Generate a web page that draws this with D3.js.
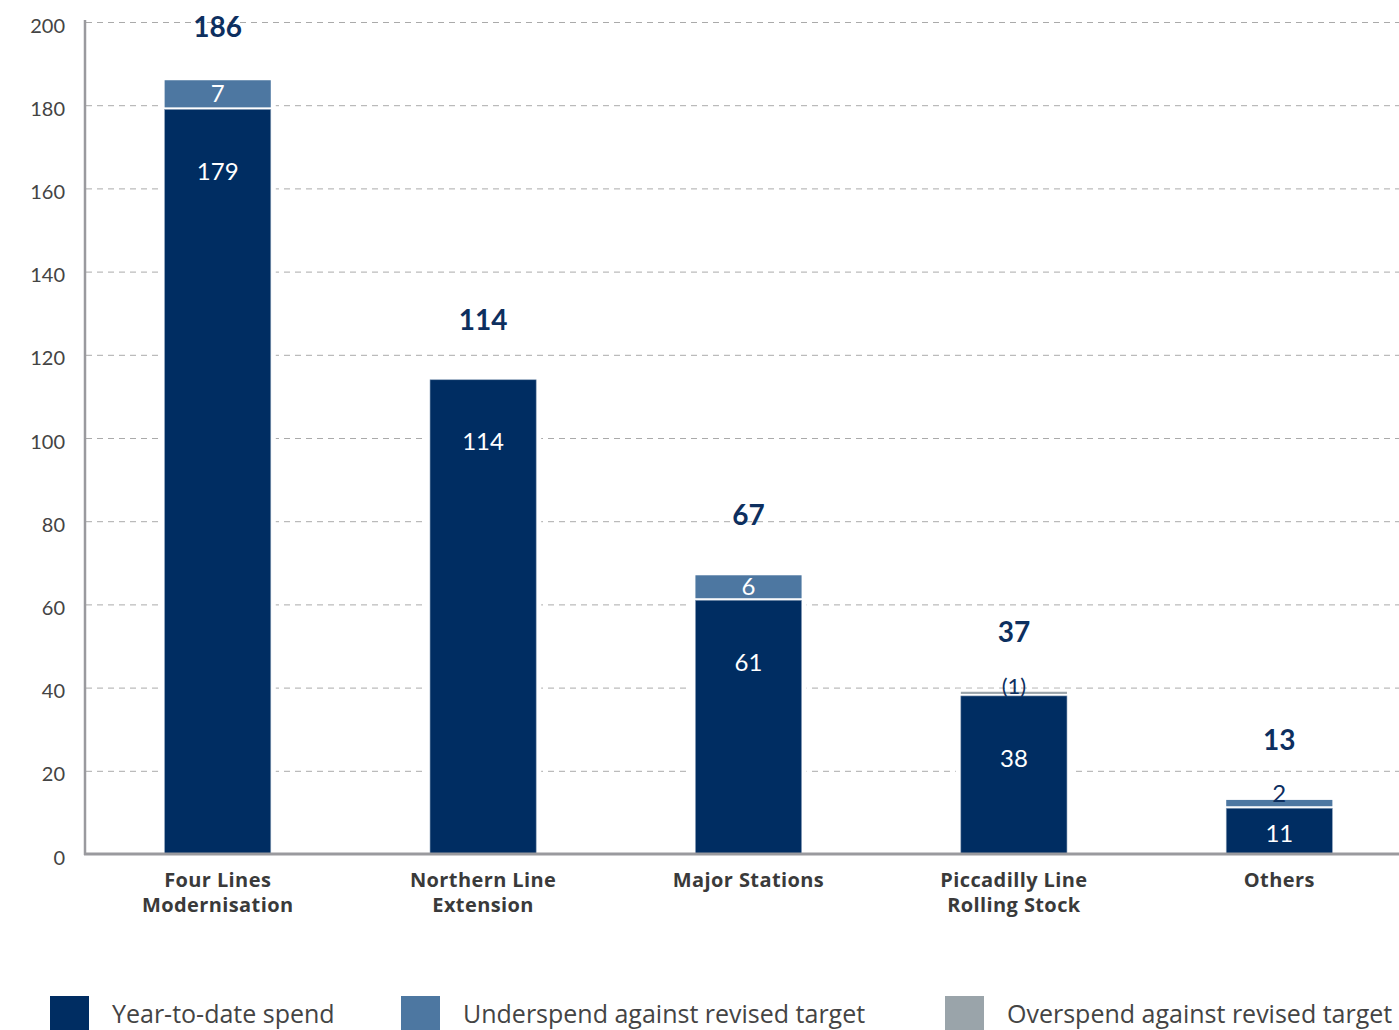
<!DOCTYPE html>
<html><head><meta charset="utf-8">
<script src="https://cdn.jsdelivr.net/npm/d3@7"></script>
<style>
html,body{margin:0;padding:0;background:#fff;}
svg{display:block;font-family:Lato,"Open Sans",sans-serif;}
</style></head>
<body>
<svg id="chart" width="1399" height="1030"></svg>
<script>
const categories = ["Four Lines|Modernisation", "Northern Line|Extension", "Major Stations", "Piccadilly Line|Rolling Stock", "Others"];
const ytdSpend = [179, 114, 61, 38, 11];
const underspend = [7, 0, 6, 0, 2];
const overspend = [0, 0, 0, 1, 0];
const totals = [186, 114, 67, 37, 13];
const yTicks = [0, 20, 40, 60, 80, 100, 120, 140, 160, 180, 200];
const legendLabels = ["Year-to-date spend", "Underspend against revised target", "Overspend against revised target"];

const colors = {ytd: "#002d62", under: "#4d77a1", over: "#9aa4aa"};
const navy = "#0d2f5f";

const svg = d3.select("#chart");
const x = d3.scaleBand().domain(categories).range([85, 1412]).paddingInner(0.6).paddingOuter(0.3);
const y = d3.scaleLinear().domain([0, 200]).range([854, 22]);
const bw = x.bandwidth();

// gridlines
svg.append("g").selectAll("line").data(yTicks.filter(d => d > 0)).join("line")
  .attr("x1", 86).attr("x2", 1399)
  .attr("y1", d => y(d) + 0.5).attr("y2", d => y(d) + 0.5)
  .attr("stroke", "#aaaaaa").attr("stroke-width", 1).attr("stroke-dasharray", "6,5");

// y axis via d3 axis
const yAxis = d3.axisLeft(y).tickValues(yTicks).tickSize(0).tickPadding(20);
const gy = svg.append("g").attr("transform", "translate(85,0)").call(yAxis);
gy.select(".domain").remove();
gy.selectAll("text").attr("font-size", 20).attr("fill", "#444").attr("font-family", "Lato, sans-serif").attr("dy", "0.5em");
svg.append("line").attr("x1", 85).attr("x2", 85).attr("y1", 20).attr("y2", 855)
  .attr("stroke", "#9a9a9e").attr("stroke-width", 2.5);

// bars
const data = categories.map((c, i) => ({c, ytd: ytdSpend[i], under: underspend[i], over: overspend[i], total: totals[i]}));
const g = svg.append("g");
data.forEach(d => {
  const x0 = x(d.c);
  const topVal = d.ytd + d.under + d.over;
  g.append("rect").attr("x", x0 - 5).attr("width", bw + 10)
    .attr("y", y(topVal) - 3).attr("height", y(0) - y(topVal) + 3).attr("fill", "#fff");
  g.append("rect").attr("x", x0).attr("width", bw)
    .attr("y", y(d.ytd)).attr("height", y(0) - y(d.ytd))
    .attr("fill", colors.ytd).attr("stroke", "#8fa3bb").attr("stroke-width", 0.6);
  if (d.under > 0) {
    g.append("rect").attr("x", x0).attr("width", bw)
      .attr("y", y(d.ytd + d.under)).attr("height", y(d.ytd) - y(d.ytd + d.under) - 2)
      .attr("fill", colors.under);
  }
  if (d.over > 0) {
    g.append("rect").attr("x", x0).attr("width", bw)
      .attr("y", y(d.ytd + d.over)).attr("height", y(d.ytd) - y(d.ytd + d.over) - 2)
      .attr("fill", colors.over);
  }
  const cx = x0 + bw / 2;
  const top = y(d.ytd), bot = y(0);
  const ly = Math.min(top + 62, (top + bot) / 2 + 2);
  g.append("text").attr("x", cx).attr("y", ly).attr("dy", "0.36em")
    .attr("text-anchor", "middle").attr("fill", "#fff").attr("font-size", 24).text(d.ytd);
  if (d.under > 0) {
    const segH = y(d.ytd) - y(d.ytd + d.under);
    if (segH > 20) {
      g.append("text").attr("x", cx).attr("y", (y(d.ytd) + y(d.ytd + d.under)) / 2 - 1).attr("dy", "0.36em")
        .attr("text-anchor", "middle").attr("fill", "#fff").attr("font-size", 24).text(d.under);
    } else {
      g.append("text").attr("x", cx).attr("y", y(d.ytd + d.under) + 2)
        .attr("text-anchor", "middle").attr("fill", navy).attr("font-size", 24).text(d.under);
    }
  }
  if (d.over > 0) {
    g.append("text").attr("x", cx).attr("y", y(d.ytd + d.over) + 2)
      .attr("text-anchor", "middle").attr("fill", navy).attr("font-size", 22).text("(" + d.over + ")");
  }
  const ty = Math.max(y(topVal) - 60, 27);
  g.append("text").attr("x", cx).attr("y", ty).attr("dy", "0.36em")
    .attr("text-anchor", "middle").attr("fill", navy).attr("font-size", 28).attr("font-weight", "bold").text(d.total);
});

// baseline
svg.append("line").attr("x1", 84).attr("x2", 1399).attr("y1", 854).attr("y2", 854)
  .attr("stroke", "#9a9a9e").attr("stroke-width", 3);

// x labels
const xl = svg.append("g");
categories.forEach(c => {
  const lines = c.split("|");
  const t = xl.append("text").attr("x", x(c) + bw / 2).attr("y", 887)
    .attr("text-anchor", "middle").attr("font-size", 20).attr("font-weight", "bold").attr("fill", "#3a3a3a")
    .attr("font-family", "'Open Sans', sans-serif").attr("letter-spacing", 0.4);
  lines.forEach((l, i) => t.append("tspan").attr("x", x(c) + bw / 2).attr("dy", i === 0 ? 0 : 25).text(l));
});

// legend
const legX = [50, 401, 945];
const legColors = [colors.ytd, colors.under, colors.over];
legendLabels.forEach((l, i) => {
  svg.append("rect").attr("x", legX[i]).attr("y", 996).attr("width", 39).attr("height", 40).attr("fill", legColors[i]);
  svg.append("text").attr("x", legX[i] + 62).attr("y", 1023).attr("font-size", 25).attr("fill", "#444")
    .attr("font-family", "'Open Sans', sans-serif").text(l);
});
</script>
</body></html>
